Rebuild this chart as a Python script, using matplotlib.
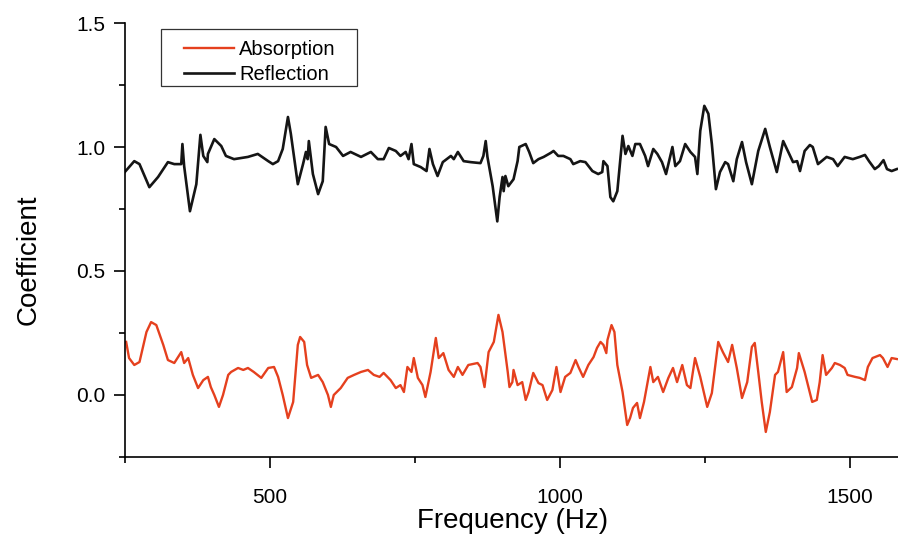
import matplotlib
matplotlib.use('Agg')
import matplotlib.pyplot as plt
from matplotlib.ticker import MultipleLocator
from matplotlib.patches import Rectangle

plt.rcParams['font.family'] = ['Liberation Sans', 'DejaVu Sans']

# reflection coefficient (black)
refl_freq = [250, 266, 275, 292, 307, 324, 335, 347, 349, 352, 362, 373, 380, 385, 392, 393,
             404, 416, 424, 438, 462, 479, 497, 505, 514, 522, 531, 536, 548, 557, 562, 565,
             567, 574, 583, 591, 596, 602, 614, 626, 639, 657, 674, 686, 696, 705, 717, 725,
             734, 739, 744, 748, 760, 770, 775, 781, 789, 798, 812, 817, 824, 834, 846, 863,
             868, 872, 875, 884, 892, 896, 901, 903, 906, 911, 920, 927, 930, 941, 947, 954,
             963, 972, 984, 989, 997, 1006, 1018, 1023, 1035, 1044, 1056, 1066, 1073, 1075,
             1082, 1087, 1092, 1099, 1108, 1113, 1118, 1125, 1130, 1138, 1147, 1152, 1161,
             1168, 1176, 1183, 1194, 1199, 1207, 1216, 1225, 1233, 1237, 1242, 1249, 1256,
             1262, 1269, 1276, 1285, 1290, 1299, 1305, 1314, 1321, 1331, 1342, 1354, 1362,
             1374, 1385, 1393, 1402, 1409, 1414, 1422, 1431, 1436, 1445, 1460, 1471, 1479,
             1491, 1505, 1517, 1526, 1533, 1543, 1550, 1558, 1564, 1572, 1581]
refl_val = [0.900, 0.943, 0.931, 0.838, 0.879, 0.939, 0.931, 0.931, 1.012, 0.923, 0.741, 0.850,
            1.049, 0.964, 0.939, 0.972, 1.032, 1.004, 0.964, 0.951, 0.960, 0.972, 0.943, 0.931,
            0.943, 0.992, 1.121, 1.053, 0.850, 0.931, 0.980, 0.951, 1.024, 0.891, 0.810, 0.862,
            1.081, 1.012, 1.000, 0.964, 0.980, 0.960, 0.980, 0.951, 0.951, 0.996, 0.984, 0.964,
            0.980, 0.951, 1.012, 0.931, 0.919, 0.903, 0.992, 0.931, 0.883, 0.939, 0.964, 0.951,
            0.980, 0.943, 0.939, 0.935, 0.964, 1.024, 0.960, 0.842, 0.700, 0.798, 0.879, 0.822,
            0.883, 0.842, 0.870, 0.943, 1.000, 1.012, 0.980, 0.935, 0.951, 0.960, 0.976, 0.984,
            0.964, 0.964, 0.951, 0.931, 0.943, 0.939, 0.903, 0.891, 0.899, 0.943, 0.923, 0.798,
            0.781, 0.822, 1.045, 0.972, 1.004, 0.964, 1.012, 1.012, 0.964, 0.923, 0.992, 0.972,
            0.939, 0.891, 1.000, 0.923, 0.943, 1.012, 0.980, 0.960, 0.891, 1.065, 1.166, 1.134,
            1.012, 0.830, 0.899, 0.939, 0.931, 0.862, 0.951, 1.020, 0.939, 0.850, 0.984, 1.073,
            1.000, 0.899, 1.024, 0.984, 0.939, 0.943, 0.903, 0.984, 1.008, 1.000, 0.931, 0.960,
            0.951, 0.923, 0.960, 0.951, 0.960, 0.968, 0.943, 0.911, 0.923, 0.947, 0.911, 0.903,
            0.911]

# absorption coefficient (red)
abs_freq = [252, 257, 266, 275, 287, 295, 304, 316, 324, 335, 347, 352, 359, 367, 376, 385,
            393, 398, 404, 412, 419, 428, 433, 445, 454, 462, 472, 485, 497, 507, 514, 522,
            531, 540, 548, 552, 559, 564, 571, 583, 591, 600, 605, 610, 622, 634, 645, 657,
            669, 679, 689, 696, 708, 717, 725, 731, 737, 744, 748, 755, 763, 768, 777, 786,
            791, 799, 808, 817, 824, 832, 842, 858, 863, 870, 877, 886, 894, 901, 910, 913,
            918, 920, 927, 935, 941, 946, 954, 963, 970, 978, 987, 994, 1001, 1009, 1018,
            1027, 1032, 1040, 1049, 1058, 1064, 1070, 1075, 1080, 1082, 1089, 1094, 1099,
            1108, 1116, 1121, 1126, 1133, 1138, 1145, 1156, 1161, 1169, 1178, 1187, 1195,
            1202, 1211, 1219, 1225, 1233, 1242, 1254, 1262, 1273, 1281, 1290, 1297, 1305,
            1314, 1323, 1331, 1336, 1342, 1348, 1355, 1362, 1371, 1376, 1385, 1391, 1400,
            1409, 1412, 1422, 1435, 1443, 1448, 1453, 1459, 1469, 1474, 1483, 1491, 1496,
            1509, 1517, 1526, 1531, 1539, 1552, 1557, 1565, 1572, 1581]
abs_val = [0.214, 0.149, 0.121, 0.133, 0.254, 0.294, 0.282, 0.202, 0.141, 0.129, 0.173, 0.129,
           0.149, 0.081, 0.028, 0.060, 0.073, 0.032, 0.000, -0.048, 0.000, 0.081, 0.093, 0.109,
           0.101, 0.109, 0.093, 0.069, 0.109, 0.113, 0.073, 0.000, -0.093, -0.028, 0.202, 0.234,
           0.214, 0.121, 0.069, 0.081, 0.052, 0.000, -0.048, 0.000, 0.028, 0.069, 0.081, 0.093,
           0.101, 0.081, 0.073, 0.089, 0.060, 0.028, 0.040, 0.012, 0.113, 0.093, 0.149, 0.069,
           0.040, -0.008, 0.093, 0.230, 0.149, 0.169, 0.101, 0.073, 0.113, 0.081, 0.121, 0.129,
           0.113, 0.032, 0.173, 0.214, 0.323, 0.254, 0.093, 0.032, 0.052, 0.101, 0.040, 0.052,
           -0.020, 0.012, 0.089, 0.048, 0.040, -0.020, 0.020, 0.113, 0.012, 0.073, 0.089, 0.141,
           0.113, 0.073, 0.121, 0.153, 0.190, 0.214, 0.202, 0.169, 0.222, 0.282, 0.254, 0.121,
           0.012, -0.121, -0.093, -0.052, -0.032, -0.093, -0.028, 0.113, 0.052, 0.073, 0.012,
           0.069, 0.109, 0.052, 0.121, 0.040, 0.028, 0.149, 0.073, -0.048, 0.008, 0.214, 0.173,
           0.133, 0.202, 0.109, -0.012, 0.052, 0.194, 0.210, 0.093, -0.028, -0.149, -0.069,
           0.081, 0.093, 0.173, 0.012, 0.032, 0.109, 0.169, 0.093, -0.028, -0.020, 0.052, 0.161,
           0.081, 0.109, 0.129, 0.121, 0.109, 0.081, 0.073, 0.069, 0.060, 0.113, 0.149, 0.161,
           0.149, 0.113, 0.149, 0.145]

fig = plt.figure(figsize=(8.98, 5.35), dpi=100)
ax = fig.add_axes([125 / 898, 78 / 535, 1 - 125 / 898, 434 / 535])

ax.plot(abs_freq, abs_val, color='#e5401e', lw=1.7, label='Absorption')
ax.plot(refl_freq, refl_val, color='#151515', lw=1.9, label='Reflection')

ax.set_xlim(250, 1583)
ax.set_ylim(-0.25, 1.5)
ax.xaxis.set_major_locator(MultipleLocator(500))
ax.xaxis.set_minor_locator(MultipleLocator(250))
ax.yaxis.set_major_locator(MultipleLocator(0.5))
ax.yaxis.set_minor_locator(MultipleLocator(0.25))
ax.yaxis.set_major_formatter(plt.FormatStrFormatter('%.1f'))

for s in ['top', 'right']:
    ax.spines[s].set_visible(False)
for s in ['left', 'bottom']:
    ax.spines[s].set_linewidth(1.2)

ax.tick_params(which='major', direction='out', length=8, width=1.2, labelsize=15, pad=14)
ax.tick_params(which='minor', direction='out', length=4, width=1.2)
ax.tick_params(axis='y', which='major', pad=6)

ax.set_xlabel('Frequency (Hz)', fontsize=20)
ax.xaxis.set_label_coords(0.502, -0.118)
ax.set_ylabel('Coefficient', fontsize=20)
ax.yaxis.set_label_coords(-0.108, 0.455)

# legend box drawn as a plain rectangle, entries placed inside it
ax.add_patch(Rectangle((0.0466, 0.855), 0.2535, 0.131, transform=ax.transAxes,
                       facecolor='white', edgecolor='#333333', lw=0.9, zorder=4))
leg = ax.legend(loc='upper left', bbox_to_anchor=(0.076, 0.961), fontsize=14.5,
                frameon=False, handlelength=2.5, borderpad=0, borderaxespad=0,
                labelspacing=0.28, handletextpad=0.25)
leg.set_zorder(5)

fig.savefig('out.png', dpi=100)
